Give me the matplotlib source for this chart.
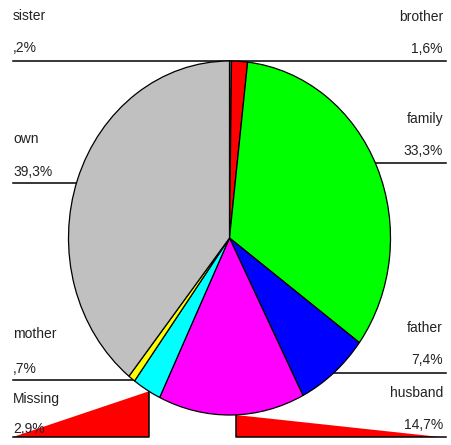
import matplotlib
matplotlib.use("Agg")
import matplotlib.pyplot as plt
import numpy as np

plt.rcParams['font.family'] = ['Liberation Sans', 'DejaVu Sans']

# slices, clockwise from 12 o'clock
labels = ['sister', 'brother', 'family', 'father', 'husband', 'Missing', 'mother', 'own']
values = [0.2, 1.6, 33.3, 7.4, 14.7, 2.9, 0.7, 39.3]
pct_text = [',2%', '1,6%', '33,3%', '7,4%', '14,7%', '2,9%', ',7%', '39,3%']
colors = ['#808080', '#FF0000', '#00FF00', '#0000FF', '#FF00FF', '#00FFFF', '#FFFF00', '#C0C0C0']

W, H = 452, 445
cx, cy = 229.5, 238     # pie centre in pixels
a, b = 161, 177         # half width / half height of the (stretched) pie

fig = plt.figure(figsize=(W / 100, H / 100), dpi=100)

# overlay in pixel coordinates for labels and leader lines
ov = fig.add_axes([0, 0, 1, 1])
ov.set_xlim(0, W)
ov.set_ylim(H, 0)
ov.axis('off')

pad = 1.05
pie_ax = fig.add_axes([(cx - a * pad) / W, (H - cy - b * pad) / H,
                       2 * a * pad / W, 2 * b * pad / H])
pie_ax.pie(values, colors=colors, startangle=90, counterclock=False,
           wedgeprops=dict(edgecolor='black', linewidth=0.9))
pie_ax.set_aspect('auto')
pie_ax.set_xlim(-pad, pad)
pie_ax.set_ylim(-pad, pad)
pie_ax.axis('off')


def edge_x(y, side):
    t = max(0.0, 1 - ((y - cy) / b) ** 2)
    return cx + side * a * np.sqrt(t)


def edge_y(x):
    t = max(0.0, 1 - ((x - cx) / a) ** 2)
    return cy + b * np.sqrt(t)


# label layout: side, y of leader line, baseline of name, baseline of percent
layout = {
    'sister':  ('L', 61, 20, 52),
    'brother': ('R', 61, 21, 53),
    'family':  ('R', 163, 123, 155),
    'own':     ('L', 183, 143, 176),
    'father':  ('R', 373, 332, 364),
    'mother':  ('L', 380, 338, 373),
    'husband': ('R', 437, 397, 429),
    'Missing': ('L', 437, 403, 433),
}
drop_x = {'Missing': 149, 'husband': 236}   # leaders that come straight down from the pie

lx, rx, tx_r = 13, 446, 443
for name, pct in zip(labels, pct_text):
    side, ly, ny, py = layout[name]
    if side == 'L':
        ov.text(lx, ny, name, ha='left', va='baseline', fontsize=10, color='#222222')
        ov.text(lx, py, pct, ha='left', va='baseline', fontsize=10, color='#222222')
    else:
        ov.text(tx_r, ny, name, ha='right', va='baseline', fontsize=10, color='#222222')
        ov.text(tx_r, py, pct, ha='right', va='baseline', fontsize=10, color='#222222')

    if name in drop_x:
        dx = drop_x[name]
        top = edge_y(dx)
        if side == 'L':
            ov.fill([lx, dx, dx], [ly, top, ly], color='#FF0000', lw=0)
            ov.plot([lx, dx, dx], [ly, ly, top], color='black', lw=1.1)
        else:
            ov.fill([dx, dx, rx - 6], [top, ly, ly], color='#FF0000', lw=0)
            ov.plot([rx, dx, dx], [ly, ly, top], color='black', lw=1.1)
    elif name in ('sister', 'brother'):
        ov.plot([lx if side == 'L' else cx, cx if side == 'L' else rx], [ly, ly],
                color='black', lw=1.1)
    else:
        if side == 'L':
            ov.plot([lx, edge_x(ly, -1)], [ly, ly], color='black', lw=1.1)
        else:
            ov.plot([edge_x(ly, 1), rx], [ly, ly], color='black', lw=1.1)

fig.savefig('out.png', dpi=100)
